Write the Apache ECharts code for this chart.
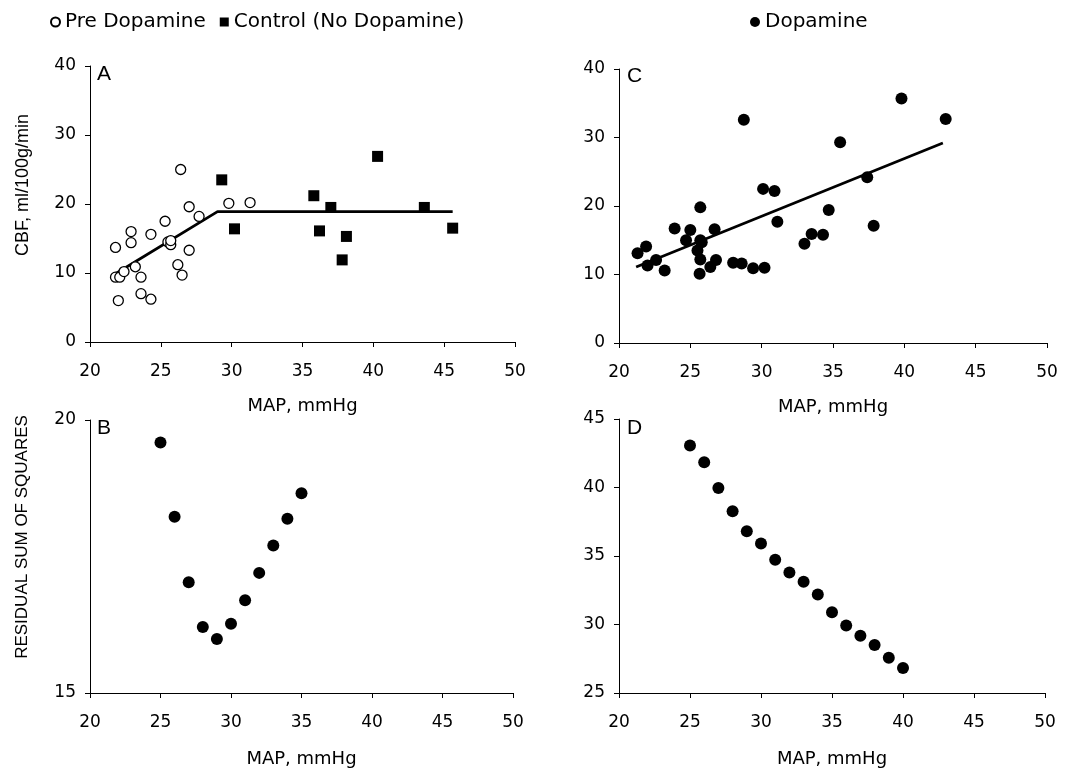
<!DOCTYPE html>
<html>
<head>
<meta charset="utf-8">
<script src="https://cdn.jsdelivr.net/npm/echarts@6/dist/echarts.min.js"></script>
<style>
  html, body { margin: 0; padding: 0; background: #fff; }
  #chart { width: 1067px; height: 772px; }
</style>
</head>
<body>
<div id="chart"></div>
<script>
  // Panel A - pre dopamine (open circles), control (squares), broken-line fit
  var preDopamine = [
    [21.8, 13.7], [21.8, 9.4], [22.1, 9.4], [22.0, 6.0], [22.4, 10.2],
    [22.9, 16.0], [22.9, 14.4], [23.2, 10.9], [23.6, 9.4], [23.6, 7.0],
    [24.3, 6.2], [24.3, 15.6], [25.3, 17.5], [25.5, 14.5], [25.7, 14.1],
    [25.7, 14.7], [26.2, 11.2], [26.4, 25.0], [26.5, 9.7], [27.0, 13.3],
    [27.0, 19.6], [27.7, 18.2], [29.8, 20.1], [31.3, 20.2]
  ]
  var controlNoDopamine = [
    [29.3, 23.5], [30.2, 16.4], [35.8, 21.2], [36.2, 16.1], [37.0, 19.5],
    [37.8, 11.9], [38.1, 15.3], [40.3, 26.9], [43.6, 19.5], [45.6, 16.5]
  ]
  var fitA = [[21.8, 9.9], [29.0, 18.9], [45.6, 18.9]]

  // Panel C - dopamine with linear fit
  var dopamine = [
    [21.3, 13.1], [21.9, 14.1], [22.0, 11.3], [22.6, 12.1], [23.2, 10.6],
    [23.9, 16.7], [24.7, 15.0], [25.0, 16.5], [25.7, 19.8], [25.7, 15.0],
    [25.5, 13.5], [25.7, 12.2], [25.65, 10.1], [25.8, 14.7], [26.4, 11.1],
    [26.7, 16.6], [26.8, 12.1], [28.0, 11.7], [28.6, 11.6], [28.75, 32.6],
    [29.4, 10.9], [30.2, 11.0], [30.1, 22.5], [30.9, 22.2], [31.1, 17.7],
    [33.0, 14.5], [33.5, 15.9], [34.3, 15.8], [34.7, 19.4], [35.5, 29.3],
    [37.4, 24.2], [37.85, 17.1], [39.8, 35.7], [42.9, 32.7]
  ]
  var fitC = [[21.2, 11.1], [42.7, 29.2]]

  // Panels B and D - residual sum of squares vs breakpoint
  var rssPre = [
    [25, 19.59], [26, 18.23], [27, 17.03], [28, 16.21], [29, 15.99],
    [30, 16.27], [31, 16.70], [32, 17.20], [33, 17.70], [34, 18.19], [35, 18.66]
  ]
  var rssDopamine = [
    [25, 43.06], [26, 41.84], [27, 39.97], [28, 38.27], [29, 36.81],
    [30, 35.91], [31, 34.72], [32, 33.80], [33, 33.12], [34, 32.19],
    [35, 30.90], [36, 29.93], [37, 29.18], [38, 28.50], [39, 27.58], [40, 26.82]
  ]

  var font = 'Liberation Sans, Arial, sans-serif'
  var wide = 'DejaVu Sans, sans-serif'
  var axisLine = { show: true, lineStyle: { color: '#000', width: 1 } }
  var axisTick = { show: true, inside: false, length: 5, lineStyle: { color: '#000', width: 1 } }

  function xAx(idx, gap) {
    return {
      type: 'value', gridIndex: idx, min: 20, max: 50, interval: 5,
      name: 'MAP, mmHg', nameLocation: 'middle', nameGap: gap,
      nameTextStyle: { color: '#000', fontSize: 18, fontFamily: wide },
      axisLine: axisLine, axisTick: axisTick, splitLine: { show: false },
      axisLabel: { color: '#000', fontSize: 17, fontFamily: wide, margin: 21 }
    }
  }
  function yAx(idx, min, max, interval) {
    return {
      type: 'value', gridIndex: idx, min: min, max: max, interval: interval,
      axisLine: axisLine, axisTick: axisTick, splitLine: { show: false },
      axisLabel: { color: '#000', fontSize: 17, fontFamily: wide, margin: 14 }
    }
  }
  function letter(t, left, top) {
    return { text: t, left: left, top: top, textStyle: { fontSize: 21, fontWeight: 'normal', color: '#000', fontFamily: font } }
  }

  var chart = echarts.init(document.getElementById('chart'))
  var option = {
    animation: false,
    backgroundColor: '#fff',
    textStyle: { fontFamily: font },
    title: [letter('A', 92, 59), letter('C', 622, 61), letter('B', 92, 413), letter('D', 622, 413)],
    graphic: [
      {
        type: 'text', x: 23, y: 185, rotation: Math.PI / 2,
        style: { text: 'CBF, ml/100g/min', fill: '#000', font: '18px Liberation Sans', align: 'center', verticalAlign: 'middle' }
      },
      {
        type: 'text', x: 22, y: 537, rotation: Math.PI / 2,
        style: { text: 'RESIDUAL SUM OF SQUARES', fill: '#000', font: '17px Liberation Sans', align: 'center', verticalAlign: 'middle' }
      }
    ],
    legend: [
      {
        left: 45, top: 7, itemGap: 14, itemWidth: 9, itemHeight: 9,
        textStyle: { fontSize: 20, color: '#000', fontFamily: wide },
        data: ['Pre Dopamine', 'Control (No Dopamine)']
      },
      {
        left: 745, top: 7, itemWidth: 10, itemHeight: 10,
        textStyle: { fontSize: 20, color: '#000', fontFamily: wide },
        data: ['Dopamine']
      }
    ],
    grid: [
      { left: 90, width: 425, top: 66, height: 276 },
      { left: 619, width: 428, top: 69, height: 274 },
      { left: 90, width: 423, top: 420, height: 273 },
      { left: 619, width: 426, top: 419, height: 274 }
    ],
    xAxis: [xAx(0, 55), xAx(1, 55), xAx(2, 57), xAx(3, 57)],
    yAxis: [yAx(0, 0, 40, 10), yAx(1, 0, 40, 10), yAx(2, 15, 20, 5), yAx(3, 25, 45, 5)],
    series: [
      {
        name: 'Pre Dopamine', type: 'scatter', xAxisIndex: 0, yAxisIndex: 0,
        symbol: 'circle', symbolSize: 10, z: 3,
        itemStyle: { color: '#fff', borderColor: '#000', borderWidth: 1.3, opacity: 1 },
        data: preDopamine
      },
      {
        name: 'Control (No Dopamine)', type: 'scatter', xAxisIndex: 0, yAxisIndex: 0,
        symbol: 'rect', symbolSize: 11, z: 3,
        itemStyle: { color: '#000', opacity: 1 },
        data: controlNoDopamine
      },
      {
        name: 'Fit A', type: 'line', xAxisIndex: 0, yAxisIndex: 0,
        showSymbol: false, symbol: 'none', z: 2,
        lineStyle: { color: '#000', width: 2.8 },
        data: fitA
      },
      {
        name: 'Dopamine', type: 'scatter', xAxisIndex: 1, yAxisIndex: 1,
        symbol: 'circle', symbolSize: 12, z: 3,
        itemStyle: { color: '#000', opacity: 1 },
        data: dopamine
      },
      {
        name: 'Fit C', type: 'line', xAxisIndex: 1, yAxisIndex: 1,
        showSymbol: false, symbol: 'none', z: 2,
        lineStyle: { color: '#000', width: 2.8 },
        data: fitC
      },
      {
        name: 'RSS Pre', type: 'scatter', xAxisIndex: 2, yAxisIndex: 2,
        symbol: 'circle', symbolSize: 12,
        itemStyle: { color: '#000', opacity: 1 },
        data: rssPre
      },
      {
        name: 'RSS Dopamine', type: 'scatter', xAxisIndex: 3, yAxisIndex: 3,
        symbol: 'circle', symbolSize: 12,
        itemStyle: { color: '#000', opacity: 1 },
        data: rssDopamine
      }
    ]
  }
  chart.setOption(option)
</script>
</body>
</html>
